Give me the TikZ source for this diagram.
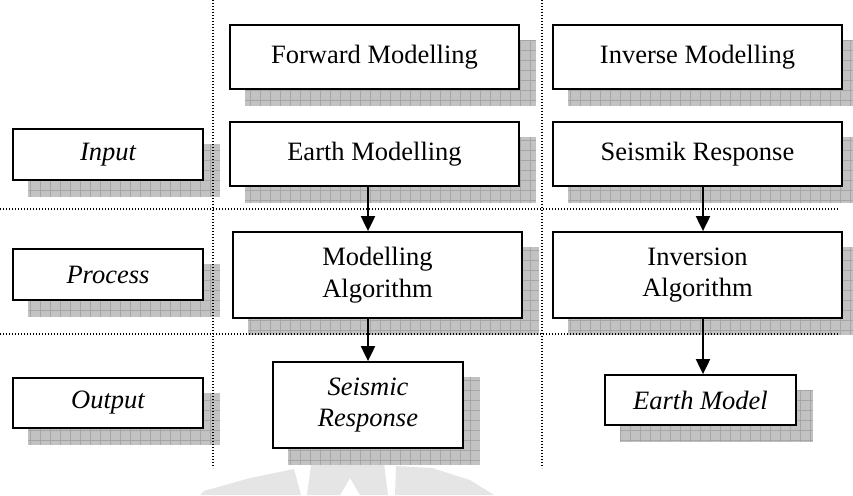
\documentclass[tikz,border=0pt]{standalone}
\usepackage{fontspec}
\setmainfont{Liberation Serif}
\usetikzlibrary{arrows.meta,calc}
\pgfdeclarelayer{background}
\pgfsetlayers{background,main}
\tikzset{
  box/.style={draw=black, line width=1.8pt, fill=white, inner sep=0pt, align=center,
              font=\fontsize{26.5}{31.8}\selectfont},
  lbl/.style={box, font=\fontsize{26.5}{31.8}\selectfont\itshape},
  sepline/.style={line width=1.3pt, dash pattern=on 1.2pt off 1.8pt},
  flow/.style={line width=2pt, -{Triangle[width=14pt,length=15pt]}},
  mark gray/.style={fill=gray!20, draw=none},
}
% hatched drop shadow offset down and right of a named node
\newcommand{\dropshadow}[1]{%
  \begin{scope}
    \clip ([shift={(16,16)}]#1.south west) rectangle ([shift={(16,16)}]#1.north east);
    \fill[gray!48] ([shift={(16,16)}]#1.south west) rectangle ([shift={(16,16)}]#1.north east);
    \foreach \gx in {0,10,...,860} \draw[gray!70, line width=0.7pt] (\gx,0) -- (\gx,500);
    \foreach \gy in {0,10,...,500} \draw[gray!70, line width=0.7pt] (0,\gy) -- (860,\gy);
  \end{scope}}
\begin{document}
\begin{tikzpicture}[x=1pt, y=-1pt]
  \useasboundingbox (0,0) rectangle (853,495);
  \clip (0,0) rectangle (853,495);

  % column and row separators
  \draw[sepline] (213,0) -- (213,468);
  \draw[sepline] (542,0) -- (542,468);
  \draw[sepline] (0,209) -- (838,209);
  \draw[sepline] (0,334) -- (838,334);

  % row labels
  \node[lbl, minimum width=190pt, minimum height=51pt] (input)   at (108,154.5) {Input};
  \node[lbl, minimum width=190pt, minimum height=51pt] (process) at (108,274.5) {Process};
  \node[lbl, minimum width=190pt, minimum height=50pt] (output)  at (108,403)   {Output};

  % forward modelling column
  \node[box, minimum width=289pt, minimum height=64pt] (fwd)  at (374.5,57)  {Forward Modelling};
  \node[box, minimum width=289pt, minimum height=64pt] (emod) at (374.5,154) {Earth Modelling};
  \node[box, minimum width=289pt, minimum height=86pt] (malg) at (377.5,275) {Modelling\\Algorithm};
  \node[lbl, minimum width=190pt, minimum height=86pt] (sres) at (368,405)   {Seismic\\Response};

  % inverse modelling column
  \node[box, minimum width=289pt, minimum height=64pt] (inv)    at (697.5,57)  {Inverse Modelling};
  \node[box, minimum width=289pt, minimum height=64pt] (sresp)  at (697.5,154) {Seismik Response};
  \node[box, minimum width=289pt, minimum height=86pt] (ialg)   at (697.5,275) {Inversion\\Algorithm};
  \node[lbl, minimum width=191pt, minimum height=50pt] (emodel) at (700.5,400) {Earth Model};

  % flow arrows
  \draw[flow] (emod.south -| sres.north) -- (malg.north -| sres.north);
  \draw[flow] (malg.south -| sres.north) -- (sres.north);
  \draw[flow] ([xshift=2.5pt]sresp.south -| emodel.north) -- ([xshift=2.5pt]ialg.north -| emodel.north);
  \draw[flow] ([xshift=2.5pt]ialg.south -| emodel.north) -- ([xshift=2.5pt]emodel.north);

  \begin{pgfonlayer}{background}
    % faint emblem along the lower edge
    \fill[mark gray] (200,495) -- (204,491) -- (250,478) -- (294,469) -- (301,495) -- cycle;
    \fill[mark gray] (307,495) -- (311,465) -- (384,463) -- (388,495) -- (360,495)
                     -- (350,478) -- (340,495) -- cycle;
    \fill[mark gray] (395,495) -- (396,466) -- (432,468) -- (470,480) -- (494,495) -- cycle;
    % shadows
    \foreach \n in {input,process,output,fwd,emod,malg,sres,inv,sresp,ialg,emodel}
      {\dropshadow{\n}}
  \end{pgfonlayer}
\end{tikzpicture}
\end{document}
